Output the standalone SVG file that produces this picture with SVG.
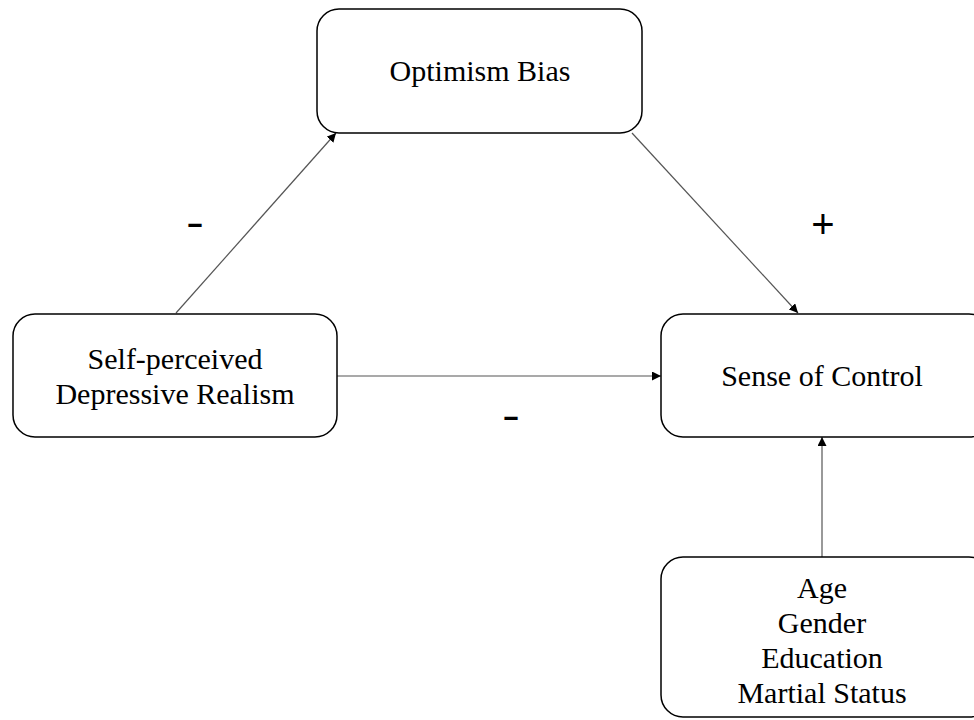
<svg xmlns="http://www.w3.org/2000/svg" width="974" height="720" viewBox="0 0 974 720">
<style>
.box{fill:#fff;stroke:#000;stroke-width:1.5}
.t{font-family:"Liberation Serif","Times New Roman",serif;font-size:30px;fill:#000;text-anchor:middle}
.c{stroke:#555;stroke-width:1.2;fill:none;marker-end:url(#ah)}
.s{font-family:"Liberation Sans",Arial,sans-serif;font-size:40px;fill:#000;text-anchor:middle}
</style>
<defs>
<marker id="ah" viewBox="0 0 10 10" refX="10" refY="5" markerWidth="9" markerHeight="9" markerUnits="userSpaceOnUse" orient="auto">
<path d="M0,0 L10,5 L0,10 z" fill="#000"/>
</marker>
</defs>
<rect width="974" height="720" fill="#fff"/>
<g id="connectors">
<line class="c" x1="176" y1="313" x2="336" y2="133"/>
<line class="c" x1="632" y1="133" x2="798" y2="313"/>
<line class="c" x1="337" y1="376" x2="661" y2="376"/>
<line class="c" x1="822" y1="557" x2="822" y2="437"/>
<text class="s" x="195" y="236" textLength="18" lengthAdjust="spacingAndGlyphs">-</text>
<text class="s" x="823" y="238">+</text>
<text class="s" x="511" y="429" textLength="18" lengthAdjust="spacingAndGlyphs">-</text>
</g>
<g id="optimism">
<rect class="box" x="317" y="9" width="325" height="124" rx="22"/>
<text class="t" x="480" y="81">Optimism Bias</text>
</g>
<g id="self">
<rect class="box" x="13" y="314" width="324" height="123" rx="22"/>
<text class="t" x="175" y="369">Self-perceived</text>
<text class="t" x="175" y="404">Depressive Realism</text>
</g>
<g id="control">
<rect class="box" x="661" y="314" width="330" height="123" rx="22"/>
<text class="t" x="822" y="386">Sense of Control</text>
</g>
<g id="covariates">
<rect class="box" x="661" y="557" width="330" height="160" rx="22"/>
<text class="t" x="822" y="598">Age</text>
<text class="t" x="822" y="633">Gender</text>
<text class="t" x="822" y="668">Education</text>
<text class="t" x="822" y="703">Martial Status</text>
</g>
</svg>
